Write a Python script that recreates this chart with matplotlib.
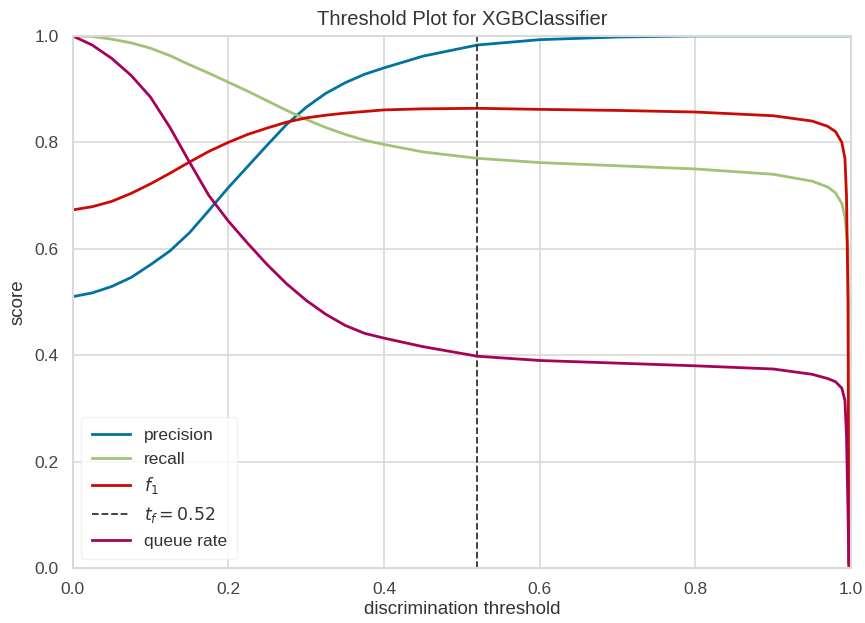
import numpy as np
import matplotlib
matplotlib.use("Agg")
import matplotlib.pyplot as plt

# values
thresholds = [0.0, 0.025, 0.05, 0.075, 0.1, 0.125, 0.15, 0.175, 0.2, 0.225,
              0.25, 0.275, 0.3, 0.325, 0.35, 0.375, 0.4, 0.45, 0.52, 0.6,
              0.7, 0.8, 0.9, 0.95, 0.97, 0.98, 0.988, 0.992, 0.994, 0.996,
              0.997]
precision = [0.510, 0.517, 0.529, 0.546, 0.570, 0.596, 0.630, 0.672, 0.715,
             0.755, 0.795, 0.834, 0.866, 0.892, 0.912, 0.928, 0.940, 0.962,
             0.983, 0.993, 0.998, 1.0, 1.0, 1.0, 1.0, 1.0, 1.0, 1.0, 1.0,
             1.0, 1.0]
recall = [1.0, 0.999, 0.994, 0.987, 0.977, 0.963, 0.946, 0.930, 0.913, 0.896,
          0.878, 0.860, 0.843, 0.828, 0.815, 0.804, 0.796, 0.782, 0.770,
          0.762, 0.756, 0.750, 0.740, 0.727, 0.716, 0.705, 0.685, 0.660,
          0.630, 0.600, 0.0]
f1 = [0.673, 0.679, 0.689, 0.704, 0.722, 0.742, 0.763, 0.783, 0.800, 0.815,
      0.827, 0.838, 0.846, 0.851, 0.855, 0.858, 0.861, 0.863, 0.864, 0.862,
      0.860, 0.857, 0.850, 0.840, 0.830, 0.820, 0.800, 0.770, 0.700, 0.500,
      0.0]
queue_rate = [1.0, 0.983, 0.958, 0.926, 0.885, 0.828, 0.763, 0.700, 0.652,
              0.610, 0.570, 0.534, 0.503, 0.477, 0.456, 0.441, 0.432, 0.416,
              0.398, 0.390, 0.385, 0.380, 0.374, 0.364, 0.356, 0.350, 0.338,
              0.315, 0.250, 0.100, 0.010]
t_f = 0.52

colors = ["#0272a2", "#9fc377", "#ca0b03", "#a50258"]
grid_c = "#d9d9d9"

plt.rcParams["font.family"] = ["Liberation Sans", "DejaVu Sans"]
plt.rcParams["mathtext.fontset"] = "dejavusans"

fig = plt.figure(figsize=(8.65, 6.23), dpi=100)
ax = fig.add_axes([0.084, 0.0883, 0.9, 0.854])
ax.set_facecolor("white")

ax.plot(thresholds, precision, color=colors[0], lw=2, label="precision")
ax.plot(thresholds, recall, color=colors[1], lw=2, label="recall")
ax.plot(thresholds, f1, color=colors[2], lw=2, label="$f_1$")
ax.axvline(t_f, color="#333333", ls="--", lw=1.3,
           label="$t_f = {:0.2f}$".format(t_f))
ax.plot(thresholds, queue_rate, color=colors[3], lw=2, label="queue rate")

ax.set_xlim(0, 1)
ax.set_ylim(0, 1)
ax.set_xticks([0.0, 0.2, 0.4, 0.6, 0.8, 1.0])
ax.set_yticks([0.0, 0.2, 0.4, 0.6, 0.8, 1.0])
ax.grid(True, color=grid_c, lw=1.2)
ax.set_axisbelow(True)
for s in ax.spines.values():
    s.set_color(grid_c)
    s.set_linewidth(1.5)
ax.tick_params(length=0, labelsize=12.5, labelcolor="#444444", pad=10)

ax.set_title("Threshold Plot for XGBClassifier", fontsize=14.5,
             color="#333333", pad=8)
ax.set_xlabel("discrimination threshold", fontsize=13.5, color="#333333",
              labelpad=3)
ax.set_ylabel("score", fontsize=13.5, color="#333333", labelpad=6)

leg = ax.legend(loc="lower left", frameon=True, fontsize=12.5,
                borderpad=0.6, handlelength=2.2)
leg.get_frame().set_facecolor("white")
leg.get_frame().set_edgecolor("#eeeeee")
for t in leg.get_texts():
    t.set_color("#333333")

fig.savefig("out.png", dpi=100)
